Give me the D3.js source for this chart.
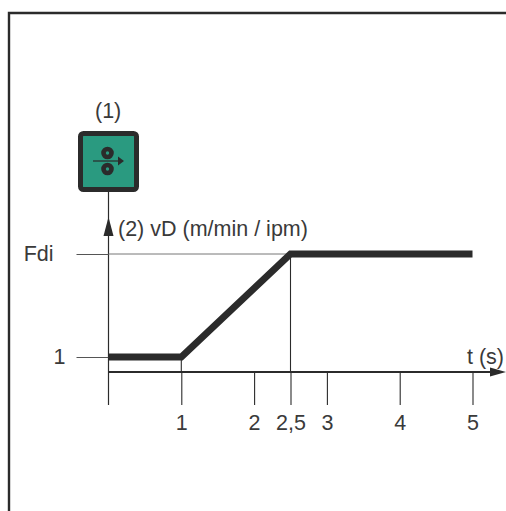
<!DOCTYPE html>
<html>
<head>
<meta charset="utf-8">
<style>
html, body { margin: 0; padding: 0; background: #fff; }
svg { display: block; }
text { font-family: "Liberation Sans", Arial, sans-serif; font-size: 21.5px; fill: #3a3a3a; }
.axis text { font-size: 21.5px; fill: #3a3a3a; }
</style>
</head>
<body>
<svg id="chart" width="506" height="511"></svg>
<script src="https://d3js.org/d3.v7.min.js"></script>
<script>
// wire speed ramp
var curveT = [0, 1, 2.5, 5];
var curveV = [1, 1, 7.87, 7.87];
var xTicks = [1, 2, 2.5, 3, 4, 5];
var xTickLabels = ["1", "2", "2,5", "3", "4", "5"];
var yTicks = [1, 7.87];
var yTickLabels = ["1", "Fdi"];

var svg = d3.select("#chart");
var ink = "#2b2b2b";

var x = d3.scaleLinear().domain([0, 5]).range([108.5, 472.5]);
var y = d3.scaleLinear().domain([0, 7.87]).range([372, 254]);

// page frame, open at right and bottom
svg.append("path")
    .attr("d", "M9,511V13H506")
    .attr("fill", "none")
    .attr("stroke", ink)
    .attr("stroke-width", 2.4);

// vertical axis line
svg.append("line")
    .attr("x1", x(0)).attr("x2", x(0))
    .attr("y1", 192).attr("y2", 405)
    .attr("stroke", ink).attr("stroke-width", 1.2);

// x ticks + labels
var xAxis = d3.axisBottom(x)
    .tickValues(xTicks)
    .tickSize(33)
    .tickPadding(10)
    .tickFormat(function(d, i) { return xTickLabels[i]; });

var gx = svg.append("g")
    .attr("class", "axis")
    .attr("transform", "translate(0," + y(0) + ")")
    .call(xAxis);
gx.select(".domain").remove();
gx.selectAll("line").attr("stroke", ink).attr("stroke-width", 1.1);
gx.selectAll("text").attr("fill", "#3a3a3a");

// y ticks + labels
var yAxis = d3.axisLeft(y)
    .tickValues(yTicks)
    .tickSize(32)
    .tickPadding(12)
    .tickFormat(function(d, i) { return yTickLabels[i]; });

var gy = svg.append("g")
    .attr("class", "axis")
    .attr("transform", "translate(" + x(0) + ",0)")
    .call(yAxis);
gy.select(".domain").remove();
gy.selectAll("line").attr("stroke", "#555").attr("stroke-width", 1);
gy.selectAll("text")
    .attr("fill", "#3a3a3a")
    .attr("dx", function(d, i) { return i ? -11 : 1; });

// drop lines from the curve corners
svg.append("line")
    .attr("x1", x(1)).attr("x2", x(1))
    .attr("y1", y(1)).attr("y2", y(0))
    .attr("stroke", ink).attr("stroke-width", 1.1);
svg.append("line")
    .attr("x1", x(2.5)).attr("x2", x(2.5))
    .attr("y1", y(7.87)).attr("y2", y(0))
    .attr("stroke", ink).attr("stroke-width", 1.1);
// Fdi guide
svg.append("line")
    .attr("x1", x(0)).attr("x2", x(2.5))
    .attr("y1", y(7.87)).attr("y2", y(7.87))
    .attr("stroke", "#777").attr("stroke-width", 1);

// x axis line and arrow
svg.append("line")
    .attr("x1", x(0)).attr("x2", 492)
    .attr("y1", y(0)).attr("y2", y(0))
    .attr("stroke", ink).attr("stroke-width", 2.2);
svg.append("path")
    .attr("d", "M506," + y(0) + "L490," + (y(0) - 4.5) + "V" + (y(0) + 4.5) + "Z")
    .attr("fill", ink);

// y arrow
svg.append("path")
    .attr("d", "M" + x(0) + ",217L" + (x(0) - 5) + ",236H" + (x(0) + 5) + "Z")
    .attr("fill", ink);

// the curve
var line = d3.line()
    .x(function(d) { return x(d); })
    .y(function(d, i) { return y(curveV[i]); });
svg.append("path")
    .attr("d", line(curveT))
    .attr("fill", "none")
    .attr("stroke", ink)
    .attr("stroke-width", 6.8)
    .attr("stroke-linejoin", "miter");

// labels
svg.append("text").attr("x", 95).attr("y", 118).text("(1)");
svg.append("text").attr("x", 118).attr("y", 236).text("(2) vD (m/min / ipm)");
svg.append("text").attr("x", 467).attr("y", 364).text("t (s)");

// wire feed icon
var icon = svg.append("g");
icon.append("rect")
    .attr("x", 80.5).attr("y", 133.5)
    .attr("width", 56).attr("height", 56)
    .attr("rx", 3)
    .attr("fill", "#2a9a80")
    .attr("stroke", ink)
    .attr("stroke-width", 5);
[153, 169].forEach(function(cy) {
  icon.append("circle").attr("cx", 107.5).attr("cy", cy).attr("r", 4)
      .attr("fill", "none").attr("stroke", ink).attr("stroke-width", 4.6);
});
icon.append("line")
    .attr("x1", 93).attr("x2", 119)
    .attr("y1", 161).attr("y2", 161)
    .attr("stroke", ink).attr("stroke-width", 1.2);
icon.append("path").attr("d", "M124,161L118,156.5V165.5Z").attr("fill", ink);
</script>
</body>
</html>
